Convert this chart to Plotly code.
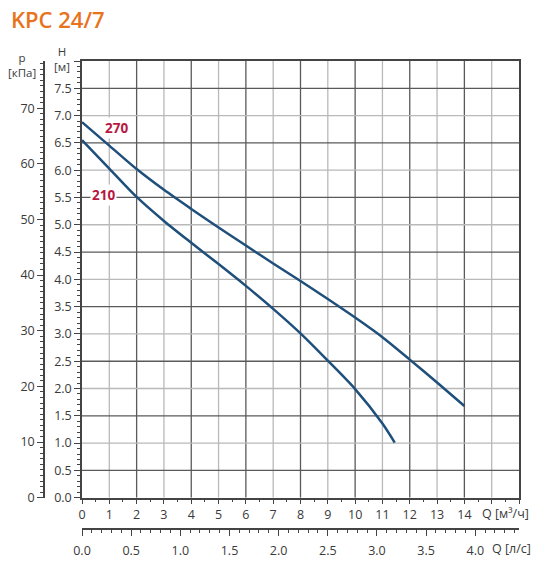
import numpy as np
import plotly.graph_objects as go

# pump curves KPC 24/7
q_270 = [0, 1, 2, 3, 4, 5, 6, 7, 8, 9, 10, 11, 12, 13, 14]
h_270 = [6.88, 6.45, 6.02, 5.64, 5.29, 4.95, 4.62, 4.29, 3.97, 3.64, 3.30, 2.94, 2.53, 2.11, 1.68]
q_210 = [0, 1, 2, 3, 4, 5, 6, 7, 8, 9, 10, 11, 11.45]
h_210 = [6.55, 6.03, 5.51, 5.07, 4.67, 4.28, 3.88, 3.46, 3.01, 2.51, 1.99, 1.36, 1.01]

curve_names = ["270", "210"]
label_pos = [(1.28, 6.77), (0.77, 5.54)]

Q_MAX = 16
H_MAX = 8
KPA_PER_M = 9.81
LPS_PER_M3H = 1 / 3.6

q_ticks = list(range(0, Q_MAX + 1))
q_text = [str(v) if v <= 14 else "" for v in q_ticks]
h_ticks = list(np.arange(0, H_MAX + 0.01, 0.5))
h_text = ["%.1f" % v if v < H_MAX else "" for v in h_ticks]
p_ticks = list(range(0, 80, 10))
lps_ticks = list(np.arange(0, 4.01, 0.5))

blue = "#1f4f7b"
red = "#b8173f"
dark = "#5a5a5a"
light = "#b9b9b9"
axc = "#444444"
txt = "#3a3a3a"
font = dict(family="Open Sans", size=12.5, color=txt)
unit_font = dict(family="Open Sans", size=11.5, color=txt)

# the page sits 8px in from the window corner, so the figure is 8px smaller
W, H = 537, 562
ML, MR, MT, MB = 36, 26, 53, 41
PW, PH = W - ML - MR, H - MT - MB


def paper(xi, yi):
    # window pixel -> paper fraction
    return (xi - 8 - ML) / PW, (H - MB - (yi - 8)) / PH


fig = go.Figure()
for q, h in [(q_270, h_270), (q_210, h_210)]:
    fig.add_trace(go.Scatter(x=q, y=h, mode="lines", hoverinfo="skip",
                             line=dict(color=blue, width=2.5, shape="spline", smoothing=0.8)))
# same curve in l/s and kPa so the second pair of axes gets drawn
fig.add_trace(go.Scatter(x=[v * LPS_PER_M3H for v in q_270], y=[v * KPA_PER_M for v in h_270],
                         xaxis="x2", yaxis="y2", mode="lines", opacity=0,
                         hoverinfo="skip", line=dict(width=0)))

# grid: even Q and half metres darker
shapes = []
for q in range(1, Q_MAX):
    shapes.append(dict(type="line", xref="x", yref="y", x0=q, x1=q, y0=0, y1=H_MAX,
                       line=dict(color=dark if q % 2 == 0 else light, width=1.3), layer="below"))
for h in np.arange(0.5, H_MAX, 0.5):
    shapes.append(dict(type="line", xref="x", yref="y", x0=0, x1=Q_MAX, y0=h, y1=h,
                       line=dict(color=light if h % 1 == 0 else dark, width=1.3), layer="below"))

ann = []
for name, (ax_, ay_) in zip(curve_names, label_pos):
    ann.append(dict(x=ax_, y=ay_, xref="x", yref="y", text=name, showarrow=False,
                    bgcolor="white", borderpad=1,
                    font=dict(family="Open Sans", size=13.5, color=red, weight=700)))
for text, xi, yi, anchor, f in [("H<br>[м]", 62, 58.5, "center", unit_font),
                                ("p<br>[кПа]", 22, 65, "center", unit_font),
                                ("Q [м³/ч]", 480, 513, "left", font),
                                ("Q [л/с]", 490, 548, "left", font)]:
    px_, py_ = paper(xi, yi)
    ann.append(dict(x=px_, y=py_, xref="paper", yref="paper", text=text, showarrow=False,
                    xanchor=anchor, yanchor="middle", font=f))
# chart title as a plain text label at the top left
tx, ty = paper(10, 19)
ann.append(dict(x=tx, y=ty, xref="paper", yref="paper", text="KPC 24/7", showarrow=False,
                xanchor="left", yanchor="middle", borderpad=0,
                font=dict(family="Open Sans", size=22, color="#e8731c", weight=600)))

fig.update_layout(
    width=W, height=H,
    margin=dict(l=ML, r=MR, t=MT, b=MB),
    plot_bgcolor="white", paper_bgcolor="white",
    showlegend=False,
    shapes=shapes,
    annotations=ann,
    xaxis=dict(range=[0, Q_MAX], domain=[38 / PW, 1], anchor="y",
               tickmode="array", tickvals=q_ticks, ticktext=q_text,
               ticks="outside", ticklen=5, tickcolor=axc, tickfont=font,
               minor=dict(tickmode="linear", tick0=0, dtick=0.5, ticks="outside",
                          ticklen=3, tickcolor=axc, showgrid=False),
               showline=True, linecolor=axc, linewidth=1.5, mirror=True,
               showgrid=False, zeroline=False),
    xaxis2=dict(range=[0, Q_MAX * LPS_PER_M3H], domain=[38 / PW, 1], overlaying="x",
                anchor="free", position=0, side="bottom",
                tickmode="array", tickvals=lps_ticks, tickformat=".1f",
                ticks="outside", ticklen=6, tickcolor=axc, tickfont=font,
                ticklabelstandoff=4,
                minor=dict(tickmode="linear", tick0=0, dtick=0.1, ticks="outside",
                           ticklen=3, tickcolor=axc, showgrid=False),
                showline=True, linecolor=axc, linewidth=1.5,
                showgrid=False, zeroline=False),
    yaxis=dict(range=[0, H_MAX], domain=[31.3 / PH, 1], anchor="x",
               tickmode="array", tickvals=h_ticks, ticktext=h_text,
               ticks="outside", ticklen=6, tickcolor=axc, tickfont=font,
               minor=dict(tickmode="linear", tick0=0, dtick=0.1, ticks="outside",
                          ticklen=3, tickcolor=axc, showgrid=False),
               showline=True, linecolor=axc, linewidth=1.5, mirror=True,
               showgrid=False, zeroline=False),
    yaxis2=dict(range=[0, H_MAX * KPA_PER_M], domain=[31.3 / PH, 1], overlaying="y",
                anchor="free", position=0, side="left",
                tickmode="array", tickvals=p_ticks,
                ticks="outside", ticklen=6, tickcolor=axc, tickfont=font,
                minor=dict(tickmode="linear", tick0=0, dtick=1, ticks="outside",
                           ticklen=3, tickcolor=axc, showgrid=False),
                showline=True, linecolor=axc, linewidth=1.5,
                showgrid=False, zeroline=False),
)

fig.write_html("out.html")
